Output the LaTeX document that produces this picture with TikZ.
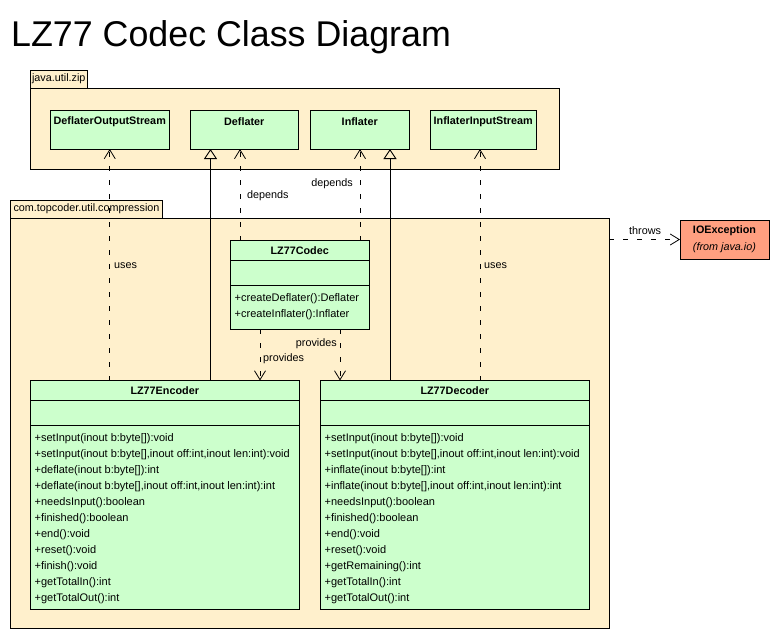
\documentclass[tikz,border=0pt]{standalone}
\usepackage{fontspec}
\setmainfont{Liberation Sans}
\usetikzlibrary{arrows.meta,calc}
\definecolor{pkgfill}{HTML}{FFF0CC}
\definecolor{clsfill}{HTML}{CCFFCC}
\definecolor{excfill}{HTML}{FF9F80}
\tikzset{
  box/.style={draw=black, line width=0.9pt, anchor=north west, inner sep=0pt, outer sep=0pt},
  pkg/.style={box, fill=pkgfill},
  cls/.style={box, fill=clsfill},
  exc/.style={box, fill=excfill},
  txt/.style={inner sep=0pt, font=\fontsize{10.8}{16}\selectfont},
  bold/.style={txt, font=\fontsize{10.8}{16}\selectfont\bfseries},
  opline/.style={txt, anchor=base west, font=\fontsize{11}{16}\selectfont},
  sep/.style={line width=0.9pt},
  dep/.style={line width=0.8pt, dash pattern=on 5pt off 9pt, -{Straight Barb[length=9pt,width=11pt,line width=0.8pt]}},
  inh/.style={line width=0.9pt, -{Triangle[open,length=10pt,width=13pt,line width=0.9pt]}},
}
\begin{document}
\begin{tikzpicture}[x=1pt, y=-1pt]
\fill[white] (0,0) rectangle (780,640);
\useasboundingbox (0,0) rectangle (780,640);

% title
\node[inner sep=0pt, anchor=base west, font=\fontsize{35.8}{40}\selectfont] (title) at (11,46.5) {LZ77 Codec Class Diagram};

% java.util.zip package
\node[pkg, minimum width=528.5, minimum height=81] (zip) at (30.5,88) {};
\node[pkg, minimum width=56.5, minimum height=18] (ziptab) at (30.5,70) {};
\node[txt] (ziptabtxt) at (ziptab.center) {java.util.zip};

% com.topcoder.util.compression package
\node[pkg, minimum width=598.5, minimum height=410] (tc) at (10.5,218) {};
\node[pkg, minimum width=152, minimum height=18] (tctab) at (10.5,200) {};
\node[txt] (tctabtxt) at (tctab.center) {com.topcoder.util.compression};

% classes in java.util.zip
\node[cls, minimum width=118.5, minimum height=38.5] (dos) at (50.5,110.5) {};
\node[bold] (dosname) at ($(dos.north)+(0,11.2)$) {DeflaterOutputStream};
\node[cls, minimum width=107.5, minimum height=38.5] (defl) at (190.5,110.5) {};
\node[bold] (deflname) at ($(defl.north)+(0,11.2)$) {Deflater};
\node[cls, minimum width=98.5, minimum height=38.5] (infl) at (310.5,110.5) {};
\node[bold] (inflname) at ($(infl.north)+(0,11.2)$) {Inflater};
\node[cls, minimum width=105.5, minimum height=38.5] (iis) at (430.5,110.5) {};
\node[bold] (iisname) at ($(iis.north)+(0,11.2)$) {InflaterInputStream};

% LZ77Codec
\node[cls, minimum width=138.5, minimum height=88.5] (codec) at (230.5,240.5) {};
\draw[sep] ($(codec.north west)+(0,19.5)$) -- ($(codec.north east)+(0,19.5)$);
\draw[sep] ($(codec.north west)+(0,44.5)$) -- ($(codec.north east)+(0,44.5)$);
\node[bold] (codecname) at ($(codec.north)+(0,10.5)$) {LZ77Codec};
\node[opline] (codecop1) at ($(codec.north west)+(4,61.3)$) {+createDeflater():Deflater};
\node[opline] (codecop2) at ($(codec.north west)+(4,77.3)$) {+createInflater():Inflater};

% LZ77Encoder
\node[cls, minimum width=268.5, minimum height=228.5] (enc) at (30.5,380.5) {};
\draw[sep] ($(enc.north west)+(0,19.5)$) -- ($(enc.north east)+(0,19.5)$);
\draw[sep] ($(enc.north west)+(0,45)$) -- ($(enc.north east)+(0,45)$);
\node[bold] (encname) at ($(enc.north)+(0,10.5)$) {LZ77Encoder};
\foreach [count=\i] \t in {{+setInput(inout b:byte[]):void},
  {+setInput(inout b:byte[],inout off:int,inout len:int):void},
  {+deflate(inout b:byte[]):int},
  {+deflate(inout b:byte[],inout off:int,inout len:int):int},
  {+needsInput():boolean},
  {+finished():boolean},
  {+end():void},
  {+reset():void},
  {+finish():void},
  {+getTotalIn():int},
  {+getTotalOut():int}}
  \node[opline] (encop\i) at ($(enc.north west)+(4,61+16*\i-16)$) {\t};

% LZ77Decoder
\node[cls, minimum width=268.5, minimum height=228.5] (dec) at (320.5,380.5) {};
\draw[sep] ($(dec.north west)+(0,19.5)$) -- ($(dec.north east)+(0,19.5)$);
\draw[sep] ($(dec.north west)+(0,45)$) -- ($(dec.north east)+(0,45)$);
\node[bold] (decname) at ($(dec.north)+(0,10.5)$) {LZ77Decoder};
\foreach [count=\i] \t in {{+setInput(inout b:byte[]):void},
  {+setInput(inout b:byte[],inout off:int,inout len:int):void},
  {+inflate(inout b:byte[]):int},
  {+inflate(inout b:byte[],inout off:int,inout len:int):int},
  {+needsInput():boolean},
  {+finished():boolean},
  {+end():void},
  {+reset():void},
  {+getRemaining():int},
  {+getTotalIn():int},
  {+getTotalOut():int}}
  \node[opline] (decop\i) at ($(dec.north west)+(4,61+16*\i-16)$) {\t};

% IOException
\node[exc, minimum width=89, minimum height=39] (ioe) at (680,220) {};
\node[bold] (ioename) at ($(ioe.north)+(0,11)$) {IOException};
\node[txt, font=\fontsize{10.8}{16}\selectfont\itshape] (ioefrom) at ($(ioe.north)+(0,28)$) {(from java.io)};

% anchor points on targets
\coordinate (definh) at ($(defl.south west)+(20,0)$);
\coordinate (defdep) at ($(defl.south west)+(49.5,0)$);
\coordinate (infdep) at ($(infl.south west)+(49.5,0)$);
\coordinate (infinh) at ($(infl.south west)+(79.5,0)$);
\coordinate (iisuse) at ($(iis.south west)+(49.5,0)$);
\coordinate (encprov) at ($(enc.north west)+(229.5,0)$);
\coordinate (decprov) at ($(dec.north west)+(19.5,0)$);

% connectors
\draw[dep] (enc.north -| dos.south) -- (dos.south);
\draw[inh] (enc.north -| definh) -- (definh);
\draw[dep] (codec.north -| defdep) -- (defdep);
\draw[dep] (codec.north -| infdep) -- (infdep);
\draw[inh] (dec.north -| infinh) -- (infinh);
\draw[dep] (dec.north -| iisuse) -- (iisuse);
\draw[dep] (codec.south -| encprov) -- (encprov);
\draw[dep] (codec.south -| decprov) -- (decprov);
\draw[dep] (ioe.west -| tc.east) -- (ioe.west);

% connector labels
\node[txt, anchor=west] (l1) at (114,265.5) {uses};
\node[txt, anchor=west] (l2) at (484,265.5) {uses};
\node[txt, anchor=west] (l3) at (247,196) {depends};
\node[txt, anchor=east] (l4) at (353,184) {depends};
\node[txt, anchor=east] (l5) at (337,344) {provides};
\node[txt, anchor=west] (l6) at (263,359) {provides};
\node[txt, anchor=west] (l7) at (629,231) {throws};
\end{tikzpicture}
\end{document}
